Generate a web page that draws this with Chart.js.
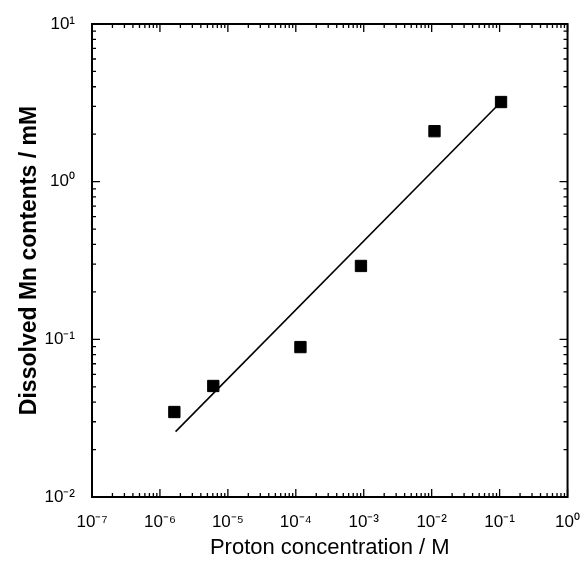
<!DOCTYPE html>
<html>
<head>
<meta charset="utf-8">
<script src="https://cdn.jsdelivr.net/npm/chart.js@4"></script>
<style>
body { margin: 0; background: #fff; }
#wrap { width: 587px; height: 567px; }
</style>
</head>
<body>
<div id="wrap"><canvas id="chart"></canvas></div>
<script>
var protonConc = [1.63e-6, 6.1e-6, 1.17e-4, 9.1e-4, 1.1e-2, 1.05e-1];
var mnContent = [0.0346, 0.0506, 0.0893, 0.292, 2.09, 3.2];
// fitted straight line, its two ends
var fitX = [1.7e-6, 0.09];
var fitY = [0.026, 3.0];
// decade ticks
var xDecades = [1e-7, 1e-6, 1e-5, 1e-4, 1e-3, 1e-2, 1e-1, 1];
var yDecades = [1e-2, 1e-1, 1, 10];

var sup = { '-': '\u207B', '0': '\u2070', '1': '\u00B9', '2': '\u00B2', '3': '\u00B3',
  '4': '\u2074', '5': '\u2075', '6': '\u2076', '7': '\u2077', '8': '\u2078', '9': '\u2079' };

function powLabel(v) {
  var e = String(Math.round(Math.log10(v)));
  var s = '';
  for (var i = 0; i < e.length; i++) s += sup[e[i]];
  return '10' + s;
}

// frame and inward tick marks, like the original plot
var framePlugin = {
  id: 'frame',
  afterDraw: function (chart) {
    var ctx = chart.ctx;
    var a = chart.chartArea;
    var xs = chart.scales.x, ys = chart.scales.y;
    ctx.save();
    ctx.strokeStyle = '#000';
    ctx.lineWidth = 2;
    ctx.strokeRect(a.left, a.top, a.right - a.left, a.bottom - a.top);
    ctx.lineWidth = 1.3;
    ctx.beginPath();
    for (var d = -7; d <= 0; d++) {
      for (var m = 1; m <= 9; m++) {
        var v = m * Math.pow(10, d);
        if (v > 1.0000001) break;
        var len = m == 1 ? 8 : 4;
        var px = xs.getPixelForValue(v);
        ctx.moveTo(px, a.bottom); ctx.lineTo(px, a.bottom - len);
        ctx.moveTo(px, a.top); ctx.lineTo(px, a.top + len);
      }
    }
    for (var d = -2; d <= 1; d++) {
      for (var m = 1; m <= 9; m++) {
        var v = m * Math.pow(10, d);
        if (v > 10.000001) break;
        var len = m == 1 ? 8 : 4;
        var py = ys.getPixelForValue(v);
        ctx.moveTo(a.left, py); ctx.lineTo(a.left + len, py);
        ctx.moveTo(a.right, py); ctx.lineTo(a.right - len, py);
      }
    }
    ctx.stroke();
    ctx.restore();
  }
};

var points = protonConc.map(function (x, i) { return { x: x, y: mnContent[i] }; });
var fitLine = fitX.map(function (x, i) { return { x: x, y: fitY[i] }; });

new Chart(document.getElementById('chart'), {
  type: 'scatter',
  data: {
    datasets: [
      {
        data: points,
        pointStyle: 'rect',
        pointRadius: 8,
        pointBackgroundColor: '#000',
        pointBorderColor: '#000',
        pointBorderWidth: 1,
        showLine: false
      },
      {
        data: fitLine,
        showLine: true,
        borderColor: '#000',
        borderWidth: 1.6,
        pointRadius: 0
      }
    ]
  },
  plugins: [framePlugin],
  options: {
    responsive: true,
    maintainAspectRatio: false,
    animation: false,
    layout: { padding: { left: 0, right: 16, top: 24, bottom: 0 } },
    plugins: { legend: { display: false }, tooltip: { enabled: false } },
    scales: {
      x: {
        type: 'logarithmic',
        min: 1e-7,
        max: 1,
        afterBuildTicks: function (scale) {
          scale.ticks = xDecades.map(function (v) { return { value: v }; });
        },
        afterFit: function (scale) { scale.height = 70; },
        grid: { display: false },
        border: { display: false },
        ticks: {
          autoSkip: false,
          maxRotation: 0,
          padding: 7,
          color: '#000',
          font: { family: 'Liberation Sans', size: 17 },
          callback: function (v) { return powLabel(v); }
        },
        title: {
          display: true,
          text: 'Proton concentration / M',
          color: '#000',
          font: { family: 'Liberation Sans', size: 22 },
          padding: { top: 0, bottom: 6 }
        }
      },
      y: {
        type: 'logarithmic',
        min: 1e-2,
        max: 10,
        afterBuildTicks: function (scale) {
          scale.ticks = yDecades.map(function (v) { return { value: v }; });
        },
        afterFit: function (scale) { scale.width = 92; },
        grid: { display: false },
        border: { display: false },
        ticks: {
          autoSkip: false,
          padding: 9,
          color: '#000',
          font: { family: 'Liberation Sans', size: 17 },
          callback: function (v) { return powLabel(v); }
        },
        title: {
          display: true,
          text: 'Dissolved Mn contents / mM',
          color: '#000',
          font: { family: 'Liberation Sans', size: 23, weight: 'bold' },
          padding: { top: 16, bottom: 0 }
        }
      }
    }
  }
});
</script>
</body>
</html>
